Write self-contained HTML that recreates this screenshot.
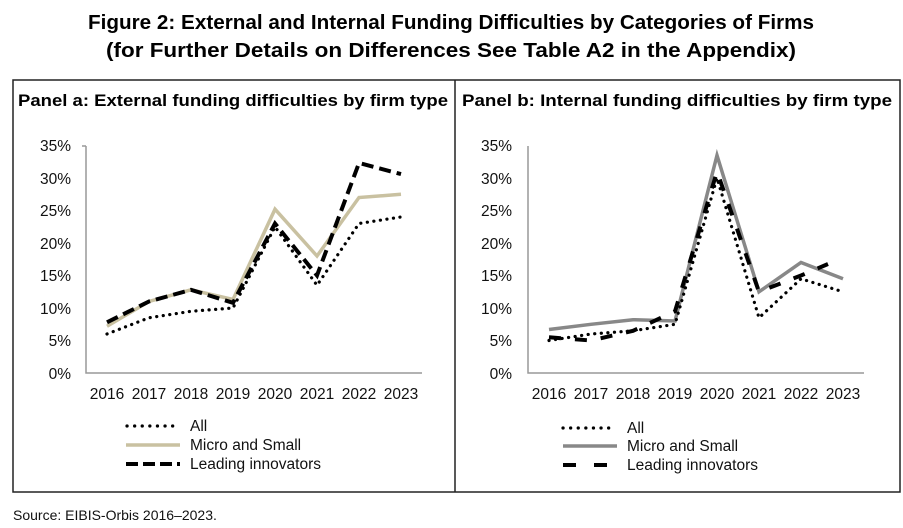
<!DOCTYPE html>
<html><head><meta charset="utf-8"><style>
body{margin:0;background:#fff;}
svg{display:block;font-family:"Liberation Sans",Arial,sans-serif;}
</style></head><body>
<svg width="903" height="528" viewBox="0 0 903 528" xmlns="http://www.w3.org/2000/svg">
<text x="451" y="29" text-anchor="middle" font-size="20.5" font-weight="bold" fill="#000" textLength="726" lengthAdjust="spacingAndGlyphs">Figure 2: External and Internal Funding Difficulties by Categories of Firms</text>
<text x="451" y="57" text-anchor="middle" font-size="20.5" font-weight="bold" fill="#000" textLength="690" lengthAdjust="spacingAndGlyphs">(for Further Details on Differences See Table A2 in the Appendix)</text>
<rect x="13" y="80" width="887" height="412" fill="none" stroke="#222" stroke-width="1.5"/>
<line x1="455" y1="80" x2="455" y2="492" stroke="#222" stroke-width="1.5"/>
<text x="18" y="106" font-size="17" font-weight="bold" textLength="430" lengthAdjust="spacingAndGlyphs">Panel a: External funding difficulties by firm type</text>
<text x="462" y="106" font-size="17" font-weight="bold" textLength="430" lengthAdjust="spacingAndGlyphs">Panel b: Internal funding difficulties by firm type</text>

<g font-size="15.5" fill="#111" text-anchor="end">
<text x="71" y="151">35%</text><text x="71" y="184">30%</text><text x="71" y="216">25%</text><text x="71" y="249">20%</text><text x="71" y="281">15%</text><text x="71" y="314">10%</text><text x="71" y="346">5%</text><text x="71" y="379">0%</text>
<g transform="translate(-8,0)">
<text x="520" y="151">35%</text><text x="520" y="184">30%</text><text x="520" y="216">25%</text><text x="520" y="249">20%</text><text x="520" y="281">15%</text><text x="520" y="314">10%</text><text x="520" y="346">5%</text><text x="520" y="379">0%</text>
</g>
</g>
<g font-size="15.5" fill="#111" text-anchor="middle">
<text x="107" y="399">2016</text><text x="149" y="399">2017</text><text x="191" y="399">2018</text><text x="233" y="399">2019</text><text x="275" y="399">2020</text><text x="317" y="399">2021</text><text x="359" y="399">2022</text><text x="401" y="399">2023</text>
<text x="549" y="399">2016</text><text x="591" y="399">2017</text><text x="633" y="399">2018</text><text x="675" y="399">2019</text><text x="717" y="399">2020</text><text x="759" y="399">2021</text><text x="801" y="399">2022</text><text x="843" y="399">2023</text>
</g>
<g stroke="#999" stroke-width="1.5" fill="none">
<polyline points="86,146 86,373 422,373"/>
<line x1="82" y1="146" x2="86" y2="146"/>
<polyline points="528,146 528,373 864,373"/>
</g>
<!-- panel a -->
<polyline fill="none" stroke="#c9c1a1" stroke-width="3.5" points="107,326.2 149,301.5 191,289.8 233,299.5 275,209.2 317,256 359,197.5 401,194.3"/>
<polyline fill="none" stroke="#000" stroke-width="3.2" stroke-dasharray="0.1 6.5" stroke-linecap="round" points="107,334 149,317.8 191,311.3 233,308 275,226.8 317,285.3 359,223.5 401,217"/>
<polyline fill="none" stroke="#000" stroke-width="4" stroke-dasharray="12 6" points="107,322.3 149,301.5 191,289.8 233,302.8 275,223.5 317,275.5 359,163 401,174.1"/>
<!-- panel b -->
<polyline fill="none" stroke="#888" stroke-width="3.5" points="549,329.5 591,324.3 633,319.7 675,321 717,155.3 759,291.8 801,262.5 843,278.8"/>
<polyline fill="none" stroke="#000" stroke-width="3.2" stroke-dasharray="0.1 6.5" stroke-linecap="round" points="549,340.5 591,334 633,330.8 675,324.3 717,178 759,317.8 801,278.8 843,291.8"/>
<polyline fill="none" stroke="#000" stroke-width="4" stroke-dasharray="12 14" points="549,337.3 591,340.5 633,330.8 675,311.3 717,171.5 759,291.8 801,275.5 828,264"/>
<!-- legends -->
<g font-size="15.5" fill="#111">
<line x1="127" y1="426" x2="176" y2="426" stroke="#000" stroke-width="3.2" stroke-dasharray="0.1 7.5" stroke-linecap="round"/>
<text x="190" y="431">All</text>
<line x1="126" y1="445" x2="180" y2="445" stroke="#c9c1a1" stroke-width="3.5"/>
<text x="190" y="450">Micro and Small</text>
<line x1="126" y1="464" x2="180" y2="464" stroke="#000" stroke-width="4" stroke-dasharray="12 5"/>
<text x="190" y="469">Leading innovators</text>
<line x1="563" y1="428" x2="612" y2="428" stroke="#000" stroke-width="3.2" stroke-dasharray="0.1 7.5" stroke-linecap="round"/>
<text x="627" y="433">All</text>
<line x1="563" y1="446" x2="617" y2="446" stroke="#888" stroke-width="3.5"/>
<text x="627" y="451">Micro and Small</text>
<line x1="563" y1="465" x2="617" y2="465" stroke="#000" stroke-width="4" stroke-dasharray="13 18"/>
<text x="627" y="470">Leading innovators</text>
</g>
<text x="13" y="520" font-size="14" fill="#111">Source: EIBIS-Orbis 2016–2023.</text>
</svg>
</body></html>
